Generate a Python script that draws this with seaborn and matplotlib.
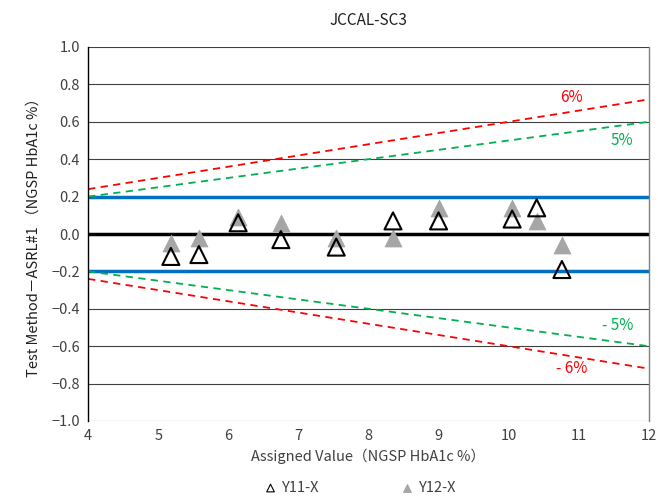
import numpy as np
import pandas as pd
import matplotlib
matplotlib.use('Agg')
import matplotlib.pyplot as plt
import seaborn as sns

# assigned values and biases
assigned = [5.18, 5.58, 6.14, 6.75, 7.54, 8.35, 9.0, 10.05, 10.4, 10.76]
y11 = [-0.12, -0.11, 0.06, -0.03, -0.07, 0.07, 0.07, 0.08, 0.14, -0.19]
y12 = [-0.05, -0.02, 0.09, 0.06, -0.02, -0.02, 0.14, 0.14, 0.07, -0.06]

x_range = [4, 12]
pct_limits = [0.05, 0.06]
fixed_limit = 0.2
y_ticks = [-1.0, -0.8, -0.6, -0.4, -0.2, 0.0, 0.2, 0.4, 0.6, 0.8, 1.0]

sns.set_style('white')
plt.rcParams['font.family'] = ['Noto Sans CJK JP', 'DejaVu Sans']

fig = plt.figure(figsize=(6.58, 5.0), dpi=100)
ax = fig.add_axes([0.134, 0.158, 0.852, 0.748])

for y in y_ticks:
    ax.axhline(y, color='#404040', lw=0.8, zorder=0)

ax.axhline(fixed_limit, color='#0070C0', lw=2.5, zorder=1)
ax.axhline(-fixed_limit, color='#0070C0', lw=2.5, zorder=1)
ax.axhline(0, color='black', lw=2.5, zorder=1)

xs = np.array(x_range, dtype=float)
colors = {0.05: '#00B050', 0.06: '#FF0000'}
for p in pct_limits:
    for sign in (1, -1):
        sns.lineplot(x=xs, y=sign * p * xs, ax=ax, color=colors[p], lw=1.3,
                     linestyle=(0, (4, 3)), zorder=2)

df = pd.DataFrame({'x': assigned, 'y11': y11, 'y12': y12})
sns.scatterplot(data=df, x='x', y='y12', ax=ax, marker='^', s=150,
                color='#A6A6A6', edgecolor='#A6A6A6', linewidth=0.5, zorder=3,
                label='Y12-X')
sns.scatterplot(data=df, x='x', y='y11', ax=ax, marker='^', s=150,
                facecolor='none', edgecolor='black', linewidth=1.5, zorder=4,
                label='Y11-X')

ax.text(10.9, 0.73, '6%', color='#FF0000', fontsize=11, ha='center', va='center')
ax.text(11.62, 0.50, '5%', color='#00B050', fontsize=11, ha='center', va='center')
ax.text(11.55, -0.49, '- 5%', color='#00B050', fontsize=11, ha='center', va='center')
ax.text(10.9, -0.72, '- 6%', color='#FF0000', fontsize=11, ha='center', va='center')

ax.set_xlim(4, 12)
ax.set_ylim(-1.0, 1.0)
ax.set_xticks(range(4, 13))
ax.set_yticks(y_ticks)
ax.set_yticklabels([f'{v:.1f}'.replace('-', '−') if v != 0 else '0.0' for v in y_ticks])
ax.tick_params(axis='both', labelsize=10.5, colors='#404040', length=0, pad=6)
for s in ['top', 'bottom']:
    ax.spines[s].set_visible(False)
ax.spines['left'].set_color('black')
ax.spines['left'].set_linewidth(1.0)
ax.spines['right'].set_color('#808080')
ax.spines['right'].set_linewidth(1.0)

ax.set_xlabel('Assigned Value（NGSP HbA1c %）', fontsize=10.5, color='#404040', labelpad=4)
ax.set_ylabel('Test Method－ASRL#1 （NGSP HbA1c %）', fontsize=10.5, color='#202020', labelpad=8)
ax.set_title('JCCAL-SC3', fontsize=11, color='#202020', pad=16)

handles, labels = ax.get_legend_handles_labels()
order = [labels.index('Y11-X'), labels.index('Y12-X')]
leg = ax.legend([handles[i] for i in order], [labels[i] for i in order],
                loc='upper center', bbox_to_anchor=(0.478, -0.125), ncol=2, frameon=False,
                fontsize=10.5, markerscale=0.45, handletextpad=-0.2, columnspacing=5,
                labelcolor='#404040')
for h in leg.legend_handles:
    h.set_linewidth(0.8)

fig.savefig('out.png', dpi=100)
